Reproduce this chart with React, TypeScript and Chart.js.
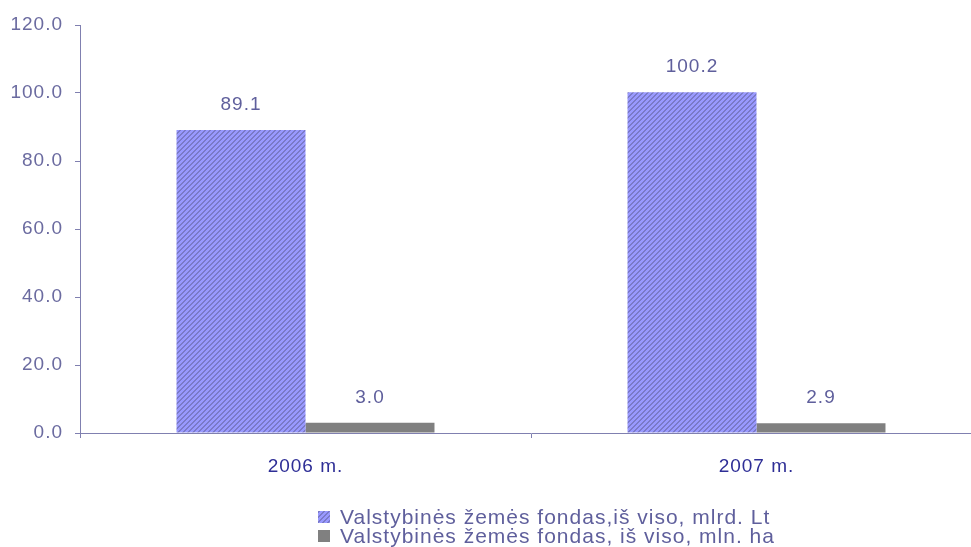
import React, { useEffect, useRef } from "react";
import { Chart, registerables } from "chart.js";
Chart.register(...registerables);

const categories = ["2006 m.", "2007 m."];
const seriesNames = [
  "Valstybinės žemės fondas,iš viso, mlrd. Lt",
  "Valstybinės žemės fondas, iš viso, mln. ha",
];
const valueLt = [89.1, 100.2];
const valueHa = [3.0, 2.9];

function makePattern(): CanvasPattern | string {
  const c = document.createElement("canvas");
  c.width = 5;
  c.height = 5;
  const ctx = c.getContext("2d");
  if (!ctx) return "#9999FF";
  ctx.fillStyle = "#9999FF";
  ctx.fillRect(0, 0, 5, 5);
  ctx.fillStyle = "#7A7AC8";
  for (let y = 0; y < 5; y++) {
    const x = (4 - y + 5) % 5;
    ctx.fillRect(x, y, 1, 1);
    ctx.fillRect((x + 1) % 5, y, 1, 1);
  }
  const p = ctx.createPattern(c, "repeat");
  return p || "#9999FF";
}

const FONT = "Arial, 'Liberation Sans', sans-serif";
const SPACING = "1px";
const CANVAS_W = 983;

export default function App() {
  const ref = useRef<HTMLCanvasElement>(null);
  useEffect(() => {
    document.body.style.margin = "0";
    const canvas = ref.current!;
    const pattern = makePattern();
    const spacingPlugin = {
      id: "spacing",
      beforeUpdate(chart: any) {
        (chart.ctx as any).letterSpacing = SPACING;
      },
      beforeDraw(chart: any) {
        (chart.ctx as any).letterSpacing = SPACING;
      },
    };
    const labelPlugin = {
      id: "labels",
      afterDatasetsDraw(chart: any) {
        const ctx = chart.ctx;
        ctx.save();
        ctx.letterSpacing = SPACING;
        ctx.font = `19px ${FONT}`;
        ctx.fillStyle = "#5F5F9C";
        ctx.textAlign = "center";
        ctx.textBaseline = "bottom";
        chart.data.datasets.forEach((ds: any, i: number) => {
          const meta = chart.getDatasetMeta(i);
          meta.data.forEach((bar: any, j: number) => {
            ctx.fillText(Number(ds.data[j]).toFixed(1), bar.x, bar.y - 16);
          });
        });
        ctx.restore();
      },
      afterDraw(chart: any) {
        const ctx = chart.ctx;
        ctx.save();
        ctx.letterSpacing = SPACING;
        ctx.font = `21px ${FONT}`;
        ctx.textAlign = "left";
        ctx.textBaseline = "middle";
        const rows = [517, 536];
        const fills = [pattern, "#808080"];
        seriesNames.forEach((name, i) => {
          ctx.fillStyle = fills[i] as any;
          ctx.fillRect(318, rows[i] - 6, 12, 12);
          ctx.fillStyle = "#5F5F9C";
          ctx.fillText(name, 340, rows[i] + 1);
        });
        ctx.restore();
      },
    };
    const chart = new Chart(canvas, {
      type: "bar",
      data: {
        labels: categories,
        datasets: [
          {
            label: seriesNames[0],
            data: valueLt,
            backgroundColor: pattern as any,
            borderWidth: 0,
            barPercentage: 1,
            categoryPercentage: 0.572,
          },
          {
            label: seriesNames[1],
            data: valueHa,
            backgroundColor: "#808080",
            borderWidth: 0,
            barPercentage: 1,
            categoryPercentage: 0.572,
          },
        ],
      },
      options: {
        animation: false,
        responsive: false,
        layout: { padding: { top: 25, right: 1, left: 0, bottom: 0 } },
        plugins: { legend: { display: false }, tooltip: { enabled: false } },
        scales: {
          y: {
            min: 0,
            max: 120,
            afterFit: (s: any) => {
              s.width = 80;
            },
            ticks: {
              stepSize: 20,
              callback: (v: any) => Number(v).toFixed(1),
              color: "#6B6BA0",
              font: { size: 19, family: FONT },
              padding: 12,
            },
            grid: {
              drawOnChartArea: false,
              drawTicks: true,
              tickLength: 5,
              color: "#8080B0",
            },
            border: { color: "#8080B0", width: 1 },
          },
          x: {
            afterFit: (s: any) => {
              s.height = 114;
            },
            ticks: {
              color: "#2E2E96",
              font: { size: 19, family: FONT },
              padding: 17,
            },
            grid: {
              drawOnChartArea: false,
              drawTicks: true,
              tickLength: 5,
              color: "#8080B0",
            },
            border: { color: "#8080B0", width: 1 },
          },
        },
      },
      plugins: [spacingPlugin, labelPlugin],
    });
    return () => chart.destroy();
  }, []);
  return (
    <div style={{ width: 971, height: 547, overflow: "hidden" }}>
      <canvas ref={ref} width={CANVAS_W} height={547} style={{ display: "block" }} />
    </div>
  );
}
